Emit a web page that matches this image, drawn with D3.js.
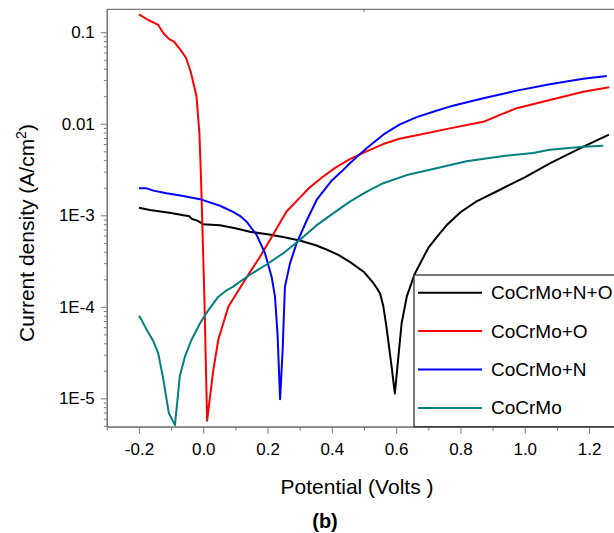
<!DOCTYPE html>
<html>
<head>
<meta charset="utf-8">
<script src="https://cdn.jsdelivr.net/npm/d3@7"></script>
<style>
  body { margin: 0; background: #fff; }
  svg { display: block; font-family: "Liberation Sans", Arial, sans-serif; }
</style>
</head>
<body>
<div id="chart"></div>
<script>
// data (potential in V, current density in A/cm2)
const seriesNames = ["CoCrMo+N+O", "CoCrMo+O", "CoCrMo+N", "CoCrMo"]
const seriesColors = ["#000000", "#ff0000", "#0000ff", "#008080"]

const vNO = [-0.2, -0.166, -0.1, -0.062, -0.045, -0.035, -0.02, 0.0, 0.052, 0.1, 0.145, 0.2, 0.248, 0.3, 0.35, 0.385, 0.42, 0.456, 0.5, 0.53, 0.54, 0.55, 0.56, 0.57, 0.586, 0.596, 0.607, 0.617, 0.633, 0.658, 0.7, 0.73, 0.76, 0.8, 0.85, 0.923, 1.0, 1.078, 1.181, 1.262]
const iNO = [1.21e-3, 1.14e-3, 1.06e-3, 1.0e-3, 9.8e-4, 9.1e-4, 8.8e-4, 8.0e-4, 7.8e-4, 7.2e-4, 6.6e-4, 6.2e-4, 5.8e-4, 5.3e-4, 4.7e-4, 4.2e-4, 3.7e-4, 3.1e-4, 2.4e-4, 1.8e-4, 1.6e-4, 1.4e-4, 1.02e-4, 6.0e-5, 2.2e-5, 1.13e-5, 2.85e-5, 6.6e-5, 1.29e-4, 2.3e-4, 4.4e-4, 6.0e-4, 8.0e-4, 1.08e-3, 1.42e-3, 1.9e-3, 2.6e-3, 3.7e-3, 5.6e-3, 7.6e-3]

const vO = [-0.2, -0.171, -0.14, -0.124, -0.106, -0.091, -0.072, -0.054, -0.039, -0.021, -0.012, -0.007, 0.003, 0.012, 0.031, 0.047, 0.078, 0.135, 0.176, 0.213, 0.259, 0.296, 0.33, 0.37, 0.41, 0.456, 0.508, 0.56, 0.61, 0.664, 0.767, 0.871, 0.923, 0.975, 1.078, 1.182, 1.263]
const iO = [0.157, 0.136, 0.12, 0.0975, 0.084, 0.079, 0.065, 0.053, 0.037, 0.020, 7.9e-3, 2.6e-3, 1.5e-4, 5.7e-6, 2.0e-5, 4.4e-5, 1.0e-4, 2.1e-4, 3.5e-4, 5.8e-4, 1.1e-3, 1.5e-3, 2.0e-3, 2.6e-3, 3.3e-3, 4.1e-3, 5.0e-3, 6.0e-3, 6.85e-3, 7.5e-3, 8.9e-3, 0.0105, 0.0125, 0.0148, 0.0182, 0.0224, 0.0251]

const vN = [-0.2, -0.176, -0.155, -0.114, -0.062, -0.01, 0.052, 0.093, 0.115, 0.135, 0.166, 0.192, 0.213, 0.223, 0.231, 0.239, 0.247, 0.254, 0.27, 0.29, 0.32, 0.353, 0.4, 0.43, 0.456, 0.508, 0.56, 0.61, 0.664, 0.72, 0.767, 0.871, 0.975, 1.078, 1.182, 1.255]
const iN = [1.97e-3, 1.97e-3, 1.86e-3, 1.74e-3, 1.62e-3, 1.5e-3, 1.27e-3, 1.09e-3, 9.8e-4, 8.5e-4, 6.1e-4, 3.85e-4, 2.1e-4, 1.3e-4, 5.1e-5, 9.8e-6, 3.4e-5, 1.66e-4, 3.0e-4, 4.9e-4, 8.5e-4, 1.48e-3, 2.4e-3, 3.0e-3, 3.7e-3, 5.4e-3, 7.6e-3, 9.8e-3, 0.0118, 0.0137, 0.0154, 0.019, 0.023, 0.027, 0.031, 0.0333]

const vBase = [-0.2, -0.192, -0.176, -0.155, -0.14, -0.124, -0.107, -0.088, -0.073, -0.057, -0.036, -0.01, 0.016, 0.047, 0.07, 0.093, 0.145, 0.197, 0.249, 0.301, 0.353, 0.404, 0.456, 0.51, 0.56, 0.633, 0.715, 0.819, 0.923, 1.026, 1.078, 1.182, 1.244]
const iBase = [8.0e-5, 7.2e-5, 5.6e-5, 4.2e-5, 3.1e-5, 1.6e-5, 6.9e-6, 5.1e-6, 1.74e-5, 2.85e-5, 4.4e-5, 6.6e-5, 9.2e-5, 1.29e-4, 1.49e-4, 1.66e-4, 2.24e-4, 2.9e-4, 3.85e-4, 5.4e-4, 7.8e-4, 1.05e-3, 1.41e-3, 1.82e-3, 2.24e-3, 2.75e-3, 3.2e-3, 3.9e-3, 4.4e-3, 4.8e-3, 5.2e-3, 5.6e-3, 5.75e-3]

const xMajor = [-0.2, 0.0, 0.2, 0.4, 0.6, 0.8, 1.0, 1.2]
const xMinor = [-0.3, -0.1, 0.1, 0.3, 0.5, 0.7, 0.9, 1.1]
const yMajor = [1e-5, 1e-4, 1e-3, 0.01, 0.1]
const yMajorLabels = ["1E-5", "1E-4", "1E-3", "0.01", "0.1"]

const series = [
  {x: vNO, y: iNO},
  {x: vO, y: iO},
  {x: vN, y: iN},
  {x: vBase, y: iBase}
]

// const
const width = 614
const height = 533
const axisColor = "#7a7a7a"

const svg = d3.select("#chart")
  .append("svg")
    .attr("width", width)
    .attr("height", height)

const x = d3.scaleLinear()
  .domain([-0.3, 1.3])
  .range([106.8, 621.2])

const y = d3.scaleLog()
  .domain([4.9e-6, 0.178])
  .range([426.7, 9.3])

// minor log ticks
let yMinor = []
for (let e = -6; e <= -1; e++) {
  for (let m = 2; m <= 9; m++) {
    let v = m * Math.pow(10, e)
    if (v >= 4.9e-6 && v <= 0.178) yMinor.push(v)
  }
}

// top frame line + lone tick
svg.append("line")
  .attr("x1", x(-0.3)).attr("x2", width)
  .attr("y1", y.range()[1]).attr("y2", y.range()[1])
  .attr("stroke", axisColor).attr("stroke-width", 1.3)
svg.append("line")
  .attr("x1", x(0.5)).attr("x2", x(0.5))
  .attr("y1", y.range()[1]).attr("y2", y.range()[1] + 3)
  .attr("stroke", axisColor)

// lines
const line = d3.line()
  .x(d => x(d[0]))
  .y(d => y(d[1]))

let lineGroup = svg.append("g").attr("id", "lineGroup")
series.forEach((s, i) => {
  lineGroup.append("path")
    .datum(s.x.map((v, k) => [v, s.y[k]]))
    .attr("d", line)
    .attr("fill", "none")
    .attr("stroke", seriesColors[i])
    .attr("stroke-width", 2)
    .attr("stroke-linejoin", "round")
})

// axes
let xAxisGroup = svg.append("g")
  .attr("id", "xAxisGroup")
  .attr("transform", `translate(0, ${y.range()[0]})`)
xAxisGroup.append("g").call(d3.axisBottom(x).tickValues(xMinor).tickSize(4).tickFormat("").tickSizeOuter(0))
xAxisGroup.append("g").call(d3.axisBottom(x).tickValues(xMajor).tickSize(7).tickSizeOuter(0)
  .tickFormat(d => d.toFixed(1)))

let yAxisGroup = svg.append("g")
  .attr("id", "yAxisGroup")
  .attr("transform", `translate(${x(-0.3)}, 0)`)
yAxisGroup.append("g").call(d3.axisLeft(y).tickValues(yMinor).tickSize(3).tickFormat("").tickSizeOuter(0))
yAxisGroup.append("g").call(d3.axisLeft(y).tickValues(yMajor).tickSize(6).tickSizeOuter(0)
  .tickFormat((d, i) => yMajorLabels[i]))

svg.selectAll(".domain").attr("stroke", axisColor).attr("stroke-width", 1.3)
svg.selectAll(".tick line").attr("stroke", axisColor)
svg.selectAll(".tick text")
  .attr("fill", "#000")
  .attr("font-size", 17)
  .attr("font-family", "'Liberation Sans', Arial, sans-serif")
xAxisGroup.selectAll(".tick text").attr("dy", "1.05em")
yAxisGroup.selectAll(".tick text").attr("x", -12)

// titles
svg.append("text")
  .attr("x", 357).attr("y", 494)
  .attr("text-anchor", "middle")
  .attr("font-size", 21)
  .text("Potential (Volts )")

svg.append("text")
  .attr("x", 325).attr("y", 528)
  .attr("text-anchor", "middle")
  .attr("font-size", 20)
  .attr("font-weight", "bold")
  .text("(b)")

let yTitle = svg.append("text")
  .attr("transform", "translate(34, 233) rotate(-90)")
  .attr("text-anchor", "middle")
  .attr("font-size", 21)
yTitle.append("tspan").text("Current density (A/cm")
yTitle.append("tspan").attr("font-size", 14).attr("dy", -8).text("2")
yTitle.append("tspan").attr("dy", 8).text(")")

// legend
let legend = svg.append("g").attr("id", "legend")
legend.append("rect")
  .attr("x", 414).attr("y", 275)
  .attr("width", 300).attr("height", y.range()[0] - 275)
  .attr("fill", "#fff")
  .attr("stroke", "#333")
  .attr("stroke-width", 1.3)

seriesNames.forEach((name, i) => {
  let ly = 292.7 + i * 38.4
  legend.append("line")
    .attr("x1", 418).attr("x2", 482)
    .attr("y1", ly).attr("y2", ly)
    .attr("stroke", seriesColors[i])
    .attr("stroke-width", 2)
  legend.append("text")
    .attr("x", 491).attr("y", ly + 6.5)
    .attr("font-size", 19)
    .text(name)
})
</script>
</body>
</html>
